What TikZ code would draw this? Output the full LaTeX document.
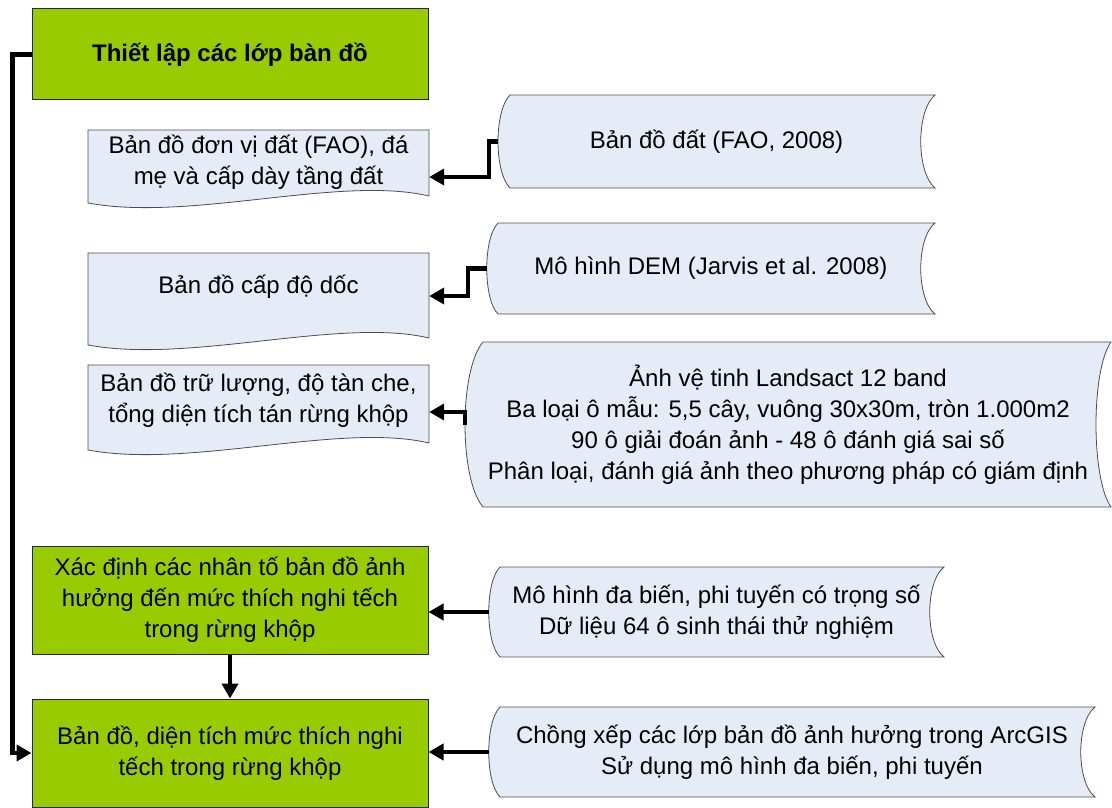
\documentclass[tikz,border=0pt]{standalone}
\usepackage{fontspec}
\setmainfont{Liberation Sans}
\usetikzlibrary{arrows.meta, positioning}

\definecolor{boxgreen}{RGB}{153,204,0}
\definecolor{boxblue}{RGB}{230,236,247}

\tikzset{
  stepbox/.style={draw=black!85, line width=1pt, fill=boxgreen, inner sep=0pt, align=center, font=\fontsize{24}{31}\selectfont},
  textbox/.style={inner sep=0pt, align=center, font=\fontsize{24}{31}\selectfont},
  shapeline/.style={draw=black!70, line width=0.8pt, fill=boxblue},
  flow/.style={line width=4.5pt, -{Triangle[length=15pt,width=16pt]}},
}

\begin{document}
\begin{tikzpicture}[x=1pt,y=1pt]
\useasboundingbox (0,0) rectangle (1112,-808);
% documents on the left
\filldraw [shapeline] (88,-130) -- (429,-130) -- (429,-196) .. controls (340,-175) and (190,-222) .. (88,-203) -- cycle;
\filldraw [shapeline] (88,-253) -- (429,-253) -- (429,-338) .. controls (340,-317) and (190,-364) .. (88,-345) -- cycle;
\filldraw [shapeline] (88,-365) -- (429,-365) -- (429,-443) .. controls (340,-422) and (190,-469) .. (88,-450) -- cycle;
% stored data on the right
\filldraw [shapeline] (510,-95) -- (935,-95) .. controls (916,-111) and (916,-172) .. (935,-188) -- (510,-188) .. controls (494,-172) and (494,-111) .. cycle;
\filldraw [shapeline] (498,-223) -- (935,-223) .. controls (916,-238) and (916,-299) .. (935,-314) -- (498,-314) .. controls (483,-299) and (483,-238) .. cycle;
\filldraw [shapeline] (483,-342) -- (1111,-342) .. controls (1091,-370) and (1091,-479) .. (1111,-507) -- (483,-507) .. controls (459,-479) and (459,-370) .. cycle;
\filldraw [shapeline] (500,-567) -- (944,-567) .. controls (925,-582) and (925,-642) .. (944,-657) -- (500,-657) .. controls (485,-642) and (485,-582) .. cycle;
\filldraw [shapeline] (500,-707) -- (1095,-707) .. controls (1076,-722) and (1076,-782) .. (1095,-797) -- (500,-797) .. controls (485,-782) and (485,-722) .. cycle;

\node (setup) at (230,-54.5) [stepbox, minimum width=396, minimum height=91, font=\fontsize{24}{30}\selectfont\bfseries] {Thiết lập các lớp bàn đồ};
\node (factors) at (230,-600) [stepbox, minimum width=396, minimum height=108] {Xác định các nhân tố bản đồ ảnh\\hưởng đến mức thích nghi tếch\\trong rừng khộp};
\node (result) at (230,-753) [stepbox, minimum width=396, minimum height=108] {Bản đồ, diện tích mức thích nghi\\tếch trong rừng khộp};

\node (doc1) at (258.5,-162) [textbox, minimum width=341, minimum height=64] {Bản đồ đơn vị đất (FAO), đá\\mẹ và cấp dày tầng đất};
\node (doc2) at (258.5,-287) [textbox, minimum width=341, minimum height=68] {Bản đồ cấp độ dốc};
\node (doc3) at (258.5,-400) [textbox, minimum width=341, minimum height=70] {Bản đồ trữ lượng, độ tàn che,\\tổng diện tích tán rừng khộp};

\node (soil) at (716.5,-141.5) [textbox, minimum width=437, minimum height=93] {Bản đồ đất (FAO, 2008)};
\node (dem) at (711,-268.5) [textbox, minimum width=448, minimum height=91] {Mô hình DEM (Jarvis et al. 2008)};
\node (sat) at (788,-424.5) [textbox, minimum width=646, minimum height=165] {Ảnh vệ tinh Landsact 12 band\\Ba loại ô mẫu: 5,5 cây, vuông 30x30m, tròn 1.000m2\\90 ô giải đoán ảnh - 48 ô đánh giá sai số\\Phân loại, đánh giá ảnh theo phương pháp có giám định};
\node (model) at (716.5,-612) [textbox, minimum width=455, minimum height=90] {Mô hình đa biến, phi tuyến có trọng số\\Dữ liệu 64 ô sinh thái thử nghiệm};
\node (overlay) at (792,-752) [textbox, minimum width=606, minimum height=90] {Chồng xếp các lớp bản đồ ảnh hưởng trong ArcGIS\\Sử dụng mô hình đa biến, phi tuyến};

\draw [flow] (soil.west) -- ++(-9,0) |- ([yshift=-15pt]doc1.east);
\draw [flow] (dem.west) -- ++(-19,0) |- ([yshift=-9pt]doc2.east);
\draw [flow] (sat.west) |- ([yshift=-12pt]doc3.east);
\draw [flow] (model.west) -- (model.west -| factors.east);
\draw [flow] (overlay.west) -- (overlay.west -| result.east);
\draw [flow] (factors) -- (result);
\draw [flow] (setup.west) -- ++(-19,0) |- (result.west);
\end{tikzpicture}
\end{document}
